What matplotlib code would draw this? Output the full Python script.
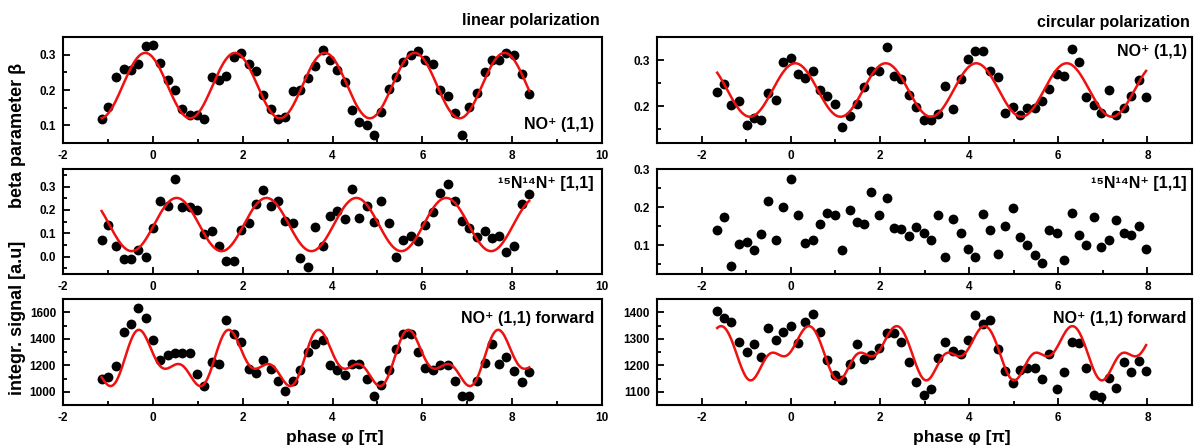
import numpy as np
import matplotlib
matplotlib.use("Agg")
import matplotlib.pyplot as plt
from matplotlib.ticker import MultipleLocator

plt.rcParams['font.family'] = ['Liberation Sans', 'DejaVu Sans']
plt.rcParams['font.weight'] = 'bold'
plt.rcParams['axes.unicode_minus'] = False

# phase positions [pi]
phase_lin = [-1.14, -0.99, -0.82, -0.65, -0.49, -0.33, -0.16, 0.0, 0.16, 0.33,
             0.49, 0.65, 0.82, 0.98, 1.15, 1.31, 1.48, 1.64, 1.80, 1.97,
             2.13, 2.30, 2.46, 2.62, 2.79, 2.95, 3.11, 3.28, 3.45, 3.61,
             3.78, 3.94, 4.10, 4.27, 4.43, 4.59, 4.76, 4.92, 5.09, 5.25,
             5.42, 5.58, 5.75, 5.91, 6.07, 6.24, 6.40, 6.57, 6.73, 6.89,
             7.05, 7.22, 7.39, 7.54, 7.71, 7.87, 8.04, 8.21, 8.38]
phase_circ = [-1.65, -1.49, -1.33, -1.16, -0.99, -0.83, -0.66, -0.50, -0.33, -0.17,
              0.0, 0.16, 0.32, 0.49, 0.66, 0.82, 0.99, 1.16, 1.32, 1.49,
              1.65, 1.81, 1.98, 2.15, 2.31, 2.48, 2.65, 2.81, 2.98, 3.15,
              3.31, 3.47, 3.64, 3.81, 3.97, 4.14, 4.31, 4.48, 4.64, 4.81,
              4.98, 5.14, 5.31, 5.47, 5.63, 5.80, 5.97, 6.14, 6.30, 6.47,
              6.63, 6.80, 6.97, 7.14, 7.30, 7.47, 7.63, 7.80, 7.97]

# linear polarization
beta_no_lin = [0.117, 0.152, 0.237, 0.260, 0.256, 0.273, 0.324, 0.328, 0.276, 0.227,
               0.201, 0.145, 0.130, 0.130, 0.119, 0.237, 0.227, 0.239, 0.293, 0.305,
               0.275, 0.254, 0.187, 0.146, 0.117, 0.125, 0.196, 0.199, 0.234, 0.267,
               0.312, 0.284, 0.258, 0.223, 0.142, 0.109, 0.100, 0.072, 0.138, 0.204,
               0.237, 0.279, 0.298, 0.310, 0.284, 0.275, 0.201, 0.183, 0.136, 0.072,
               0.152, 0.191, 0.251, 0.286, 0.286, 0.305, 0.300, 0.246, 0.190]
beta_nn_lin = [0.071, 0.133, 0.047, -0.010, -0.010, 0.026, -0.003, 0.123, 0.240, 0.217,
               0.331, 0.214, 0.214, 0.200, 0.097, 0.111, 0.044, -0.021, -0.021, 0.114,
               0.144, 0.223, 0.283, 0.217, 0.237, 0.151, 0.144, -0.007, -0.043, 0.127,
               0.047, 0.174, 0.194, 0.160, 0.289, 0.166, 0.217, 0.147, 0.237, 0.144,
               -0.003, 0.071, 0.087, 0.066, 0.137, 0.189, 0.271, 0.311, 0.240, 0.154,
               0.123, 0.083, 0.111, 0.080, 0.089, 0.019, 0.047, 0.226, 0.266]
signal_lin = [1094, 1109, 1195, 1453, 1511, 1633, 1559, 1387, 1241, 1276,
              1291, 1291, 1291, 1134, 1043, 1225, 1210, 1539, 1435, 1375,
              1175, 1144, 1241, 1170, 1084, 1008, 1084, 1165, 1301, 1362,
              1392, 1200, 1162, 1124, 1213, 1213, 1096, 970, 1051, 1165,
              1322, 1435, 1435, 1301, 1182, 1162, 1203, 1203, 1084, 970,
              970, 1084, 1220, 1362, 1210, 1266, 1154, 1076, 1152]

# circular polarization
beta_no_circ = [0.231, 0.249, 0.202, 0.211, 0.158, 0.174, 0.170, 0.229, 0.213, 0.295,
                0.305, 0.269, 0.262, 0.277, 0.236, 0.221, 0.204, 0.154, 0.179, 0.205,
                0.241, 0.276, 0.277, 0.329, 0.266, 0.259, 0.224, 0.199, 0.169, 0.169,
                0.184, 0.243, 0.193, 0.259, 0.302, 0.319, 0.319, 0.276, 0.263, 0.186,
                0.199, 0.181, 0.195, 0.196, 0.211, 0.238, 0.269, 0.266, 0.325, 0.295,
                0.219, 0.202, 0.186, 0.236, 0.181, 0.196, 0.222, 0.256, 0.219]
beta_nn_circ = [0.139, 0.174, 0.047, 0.103, 0.108, 0.089, 0.130, 0.215, 0.115, 0.200,
                0.273, 0.179, 0.105, 0.114, 0.155, 0.186, 0.179, 0.087, 0.193, 0.160,
                0.155, 0.240, 0.179, 0.224, 0.146, 0.144, 0.124, 0.148, 0.132, 0.115,
                0.179, 0.070, 0.170, 0.132, 0.091, 0.070, 0.183, 0.141, 0.077, 0.151,
                0.197, 0.122, 0.100, 0.075, 0.054, 0.141, 0.132, 0.061, 0.184, 0.127,
                0.102, 0.174, 0.096, 0.115, 0.167, 0.132, 0.126, 0.150, 0.090]
signal_circ = [1403, 1380, 1362, 1289, 1249, 1279, 1231, 1342, 1297, 1324,
               1350, 1284, 1362, 1392, 1327, 1218, 1163, 1143, 1206, 1281,
               1223, 1239, 1266, 1322, 1322, 1289, 1213, 1135, 1087, 1112,
               1228, 1289, 1255, 1242, 1297, 1390, 1355, 1372, 1261, 1178,
               1133, 1181, 1191, 1191, 1150, 1242, 1110, 1173, 1287, 1284,
               1191, 1087, 1082, 1152, 1115, 1211, 1173, 1216, 1179]

# fitted curves: (x0, period, mean, [(cos, sin) per harmonic])
fit_no_lin = (-0.17, 2.0, 0.2125, [(0.0925, 0.0)])
fit_nn_lin = (0.53, 2.0, 0.137, [(0.114, 0.0)])
fit_sig_lin = (-0.33, 2.0, 1231, [(135.6, 60.0), (99.8, -13.8)])
fit_no_circ = (0.10, 2.03, 0.235, [(0.058, 0.0)])
fit_sig_circ = (0.42, 1.97, 1246, [(64.4, -36.0), (40.5, 18.5), (-3.4, -3.0)])


def fit_curve(x, par):
    x0, period, mean, harm = par
    u = 2 * np.pi * (x - x0) / period
    y = np.full_like(x, mean, dtype=float)
    for k, (c, s) in enumerate(harm, start=1):
        y += c * np.cos(k * u) + s * np.sin(k * u)
    return y


W, H = 1195, 448
fig = plt.figure(figsize=(W / 100, H / 100), dpi=100)


def make_ax(l, r, t, b):
    return fig.add_axes([l / W, 1 - b / H, (r - l) / W, (b - t) / H])


rows = [(37, 143), (169, 274), (299, 405)]
ax_l = [make_ax(63, 602, t, b) for t, b in rows]
ax_r = [make_ax(657, 1192, t, b) for t, b in rows]

panels = [
    (ax_l[0], phase_lin, beta_no_lin, fit_no_lin, (-2, 10), (0.05, 0.35), 0.1, 0.05,
     "NO⁺ (1,1)", (0.985, 0.17)),
    (ax_l[1], phase_lin, beta_nn_lin, fit_nn_lin, (-2, 10), (-0.075, 0.375), 0.1, 0.05,
     "¹⁵N¹⁴N⁺ [1,1]", (0.985, 0.86)),
    (ax_l[2], phase_lin, signal_lin, fit_sig_lin, (-2, 10), (900, 1700), 200, 100,
     "NO⁺ (1,1) forward", (0.985, 0.82)),
    (ax_r[0], phase_circ, beta_no_circ, fit_no_circ, (-3, 9), (0.12, 0.35), 0.1, 0.05,
     "NO⁺ (1,1)", (0.99, 0.86)),
    (ax_r[1], phase_circ, beta_nn_circ, None, (-3, 9), (0.025, 0.3), 0.1, 0.05,
     "¹⁵N¹⁴N⁺ [1,1]", (0.99, 0.86)),
    (ax_r[2], phase_circ, signal_circ, fit_sig_circ, (-3, 9), (1050, 1450), 100, 50,
     "NO⁺ (1,1) forward", (0.99, 0.82)),
]

for ax, x, y, fit, xlim, ylim, ymaj, ymin, label, pos in panels:
    ax.scatter(x, y, s=50, color='black', zorder=3, linewidths=0)
    if fit is not None:
        xf = np.linspace(min(x), max(x), 400)
        ax.plot(xf, fit_curve(xf, fit), color='#f01010', lw=1.8, zorder=4)
    ax.set_xlim(*xlim)
    ax.set_ylim(*ylim)
    ax.xaxis.set_major_locator(MultipleLocator(2))
    ax.xaxis.set_minor_locator(MultipleLocator(1))
    ax.yaxis.set_major_locator(MultipleLocator(ymaj))
    ax.yaxis.set_minor_locator(MultipleLocator(ymin))
    ax.tick_params(which='both', direction='in', top=False, right=False,
                   width=1.3, labelsize=8.5, pad=5)
    ax.tick_params(which='major', length=5)
    ax.tick_params(which='minor', length=3)
    for sp in ax.spines.values():
        sp.set_linewidth(1.5)
    ax.text(pos[0], pos[1], label, transform=ax.transAxes, ha='right', va='center',
            fontsize=11.5, fontweight='bold')

fig.text(600 / W, 1 - 20 / H, "linear polarization", ha='right', va='center',
         fontsize=11.5, fontweight='bold')
fig.text(1190 / W, 1 - 22 / H, "circular polarization", ha='right', va='center',
         fontsize=11.5, fontweight='bold')
fig.text(18 / W, 1 - 135 / H, "beta parameter β", rotation=90, ha='center', va='center',
         fontsize=13, fontweight='bold')
fig.text(18 / W, 1 - 318 / H, "integr. signal [a.u]", rotation=90, ha='center', va='center',
         fontsize=13, fontweight='bold')
fig.text(335 / W, 1 - 437 / H, "phase φ [π]", ha='center', va='center',
         fontsize=12.5, fontweight='bold')
fig.text(962 / W, 1 - 437 / H, "phase φ [π]", ha='center', va='center',
         fontsize=12.5, fontweight='bold')

fig.savefig("out.png", dpi=100)
